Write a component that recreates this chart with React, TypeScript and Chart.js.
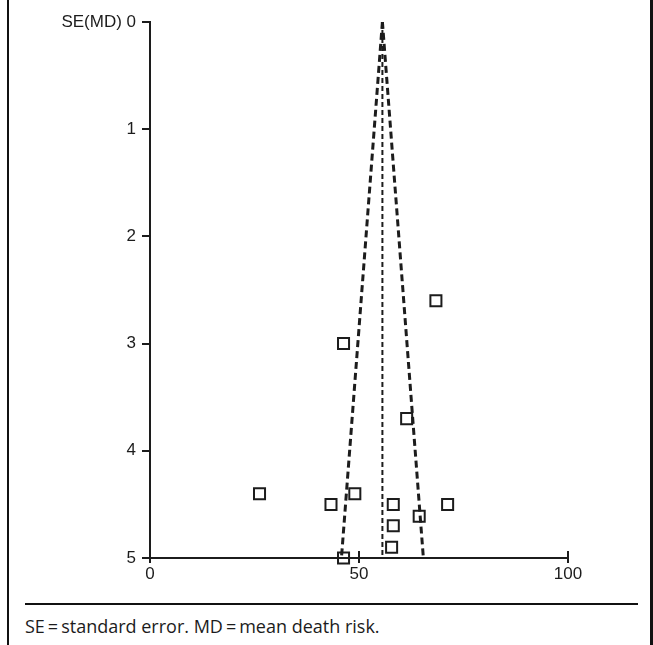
import React, { useEffect, useRef } from "react";
import { Chart, registerables } from "chart.js";

Chart.register(...registerables);

// Study points: mean death risk (MD, %) vs standard error SE(MD)
const studyMD = [26.2, 43.3, 46.3, 46.3, 49.0, 58.2, 58.2, 57.8, 61.4, 64.4, 68.4, 71.2];
const studySE = [4.4, 4.5, 3.0, 5.0, 4.4, 4.5, 4.7, 4.9, 3.7, 4.61, 2.6, 4.5];

// Funnel (pooled estimate and 95% limits)
const funnelSE = [0, 5];
const funnelCenter = [55.6, 55.6];
const funnelLower = [55.6, 45.8];
const funnelUpper = [55.6, 65.4];

const xTicks = [0, 50, 100];
const yTicks = [0, 1, 2, 3, 4, 5];
const yTitle = "SE(MD)";
const caption = "SE\u2009=\u2009standard error. MD\u2009=\u2009mean death risk.";

const INK = "#1c1c1c";

const crossTicksPlugin = {
  id: "crossTicks",
  afterDraw(chart: any) {
    const xs = chart.scales.x;
    const ys = chart.scales.y;
    const ctx = chart.ctx;
    const yb = ys.getPixelForValue(5);
    ctx.save();
    ctx.strokeStyle = INK;
    ctx.lineWidth = 2;
    xTicks.forEach((v) => {
      const px = xs.getPixelForValue(v);
      ctx.beginPath();
      ctx.moveTo(px, yb - 7);
      ctx.lineTo(px, yb + 5);
      ctx.stroke();
    });
    ctx.restore();
  },
};

export default function App() {
  const ref = useRef<HTMLCanvasElement | null>(null);

  useEffect(() => {
    if (!ref.current) return;
    const toXY = (xs: number[], ys: number[]) => xs.map((x, i) => ({ x, y: ys[i] }));
    const lineDs = (xs: number[], width: number, dash: number[]) => ({
      type: "scatter" as const,
      data: toXY(xs, funnelSE),
      showLine: true,
      borderColor: INK,
      borderWidth: width,
      borderDash: dash,
      pointRadius: 0,
      fill: false,
      clip: false as any,
    });
    const chart = new Chart(ref.current, {
      type: "scatter",
      data: {
        datasets: [
          lineDs(funnelCenter, 2, [5, 3]),
          lineDs(funnelLower, 3, [7, 4]),
          lineDs(funnelUpper, 3, [7, 4]),
          {
            type: "scatter",
            data: toXY(studyMD, studySE),
            pointStyle: "rect",
            pointRadius: 7.8,
            pointBorderWidth: 2,
            pointBorderColor: INK,
            pointBackgroundColor: "rgba(255,255,255,0)",
            clip: false as any,
          } as any,
        ],
      },
      options: {
        animation: false,
        responsive: false,
        maintainAspectRatio: false,
        layout: { padding: { left: 10, top: 22, right: 85, bottom: 0 } },
        plugins: { legend: { display: false }, tooltip: { enabled: false } },
        scales: {
          x: {
            type: "linear",
            min: 0,
            max: 100,
            afterBuildTicks: (s: any) => {
              s.ticks = xTicks.map((v) => ({ value: v }));
            },
            afterFit: (s: any) => {
              s.height = 42;
            },
            grid: { display: false, drawTicks: false },
            border: { display: true, color: INK, width: 2 },
            ticks: {
              color: INK,
              padding: 6,
              font: { family: "'Liberation Sans', Arial, sans-serif", size: 17 },
              maxRotation: 0,
            },
          },
          y: {
            type: "linear",
            reverse: true,
            min: 0,
            max: 5,
            afterBuildTicks: (s: any) => {
              s.ticks = yTicks.map((v) => ({ value: v }));
            },
            afterFit: (s: any) => {
              s.width = 140;
            },
            grid: {
              display: true,
              drawOnChartArea: false,
              drawTicks: true,
              tickLength: 8,
              color: INK,
              lineWidth: 2,
            },
            border: { display: true, color: INK, width: 2 },
            ticks: {
              color: INK,
              padding: 6,
              font: { family: "'Liberation Sans', Arial, sans-serif", size: 17 },
              callback: (v: any) => (Number(v) === 0 ? `${yTitle} 0` : String(v)),
            },
          },
        },
      },
      plugins: [crossTicksPlugin],
    });
    return () => chart.destroy();
  }, []);

  return (
    <div style={{ position: "absolute", left: 0, top: 0, width: 653, height: 645, background: "#fff", overflow: "hidden" }}>
      <canvas ref={ref} width={653} height={600} style={{ position: "absolute", left: 0, top: 0, width: 653, height: 600 }} />
      <div style={{ position: "absolute", left: 7, top: 0, width: 2, height: 645, background: "#111" }} />
      <div style={{ position: "absolute", left: 650, top: 0, width: 3, height: 645, background: "#111" }} />
      <div style={{ position: "absolute", left: 25, top: 603, width: 613, height: 2, background: "#111" }} />
      <div
        style={{
          position: "absolute",
          left: 25,
          top: 614,
          fontFamily: "'Open Sans', 'Noto Sans', sans-serif",
          fontSize: 18,
          color: INK,
          whiteSpace: "nowrap",
          lineHeight: "24px",
        }}
      >
        {caption}
      </div>
    </div>
  );
}
